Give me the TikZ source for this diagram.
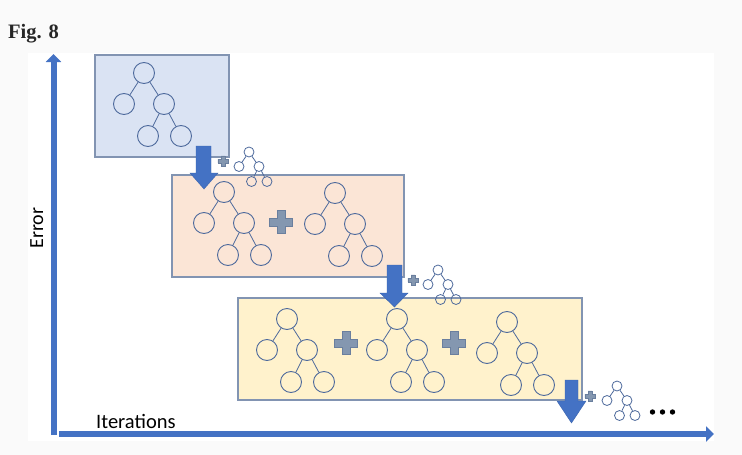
\documentclass[tikz,border=0pt]{standalone}
\usepackage{fontspec}
\newfontfamily\figfont{Liberation Serif}
\newfontfamily\calfont{Carlito}
\usetikzlibrary{arrows.meta}
\definecolor{axisblue}{HTML}{4472C4}
\definecolor{arrowedge}{HTML}{3A64AE}
\definecolor{treecol}{HTML}{4E6A9C}
\definecolor{boxedge}{HTML}{8294B2}
\definecolor{fillA}{HTML}{DAE3F3}
\definecolor{fillB}{HTML}{FBE5D6}
\definecolor{fillC}{HTML}{FFF2CC}
\definecolor{plusfill}{HTML}{8497B0}
\definecolor{plusedge}{HTML}{6A7F9E}
\definecolor{pagegray}{HTML}{FAFAFA}
\tikzset{
  tc/.style={circle,draw=treecol,inner sep=0pt,line width=0.9pt},
  tcs/.style={circle,draw=treecol,inner sep=0pt,line width=0.8pt,minimum size=10pt},
  tl/.style={draw=treecol,line width=0.8pt},
  panel/.style={draw=boxedge,line width=1.1pt},
  barrow/.style={fill=axisblue,draw=arrowedge,line width=0.4pt},
  axisline/.style={draw=axisblue,line width=6pt,-{Triangle[width=15pt,length=8pt]}},
  plusst/.style={fill=plusfill,draw=plusedge,line width=0.6pt},
  bigtree/.pic={
    \node[tc,minimum size=21pt] (-r) at (0,0) {};
    \node[tc,minimum size=21pt] (-l) at (-20,31) {};
    \node[tc,minimum size=21pt] (-m) at (20,31) {};
    \node[tc,minimum size=21pt] (-a) at (4,63) {};
    \node[tc,minimum size=21pt] (-b) at (37,63) {};
    \draw[tl] (-r) -- (-l);
    \draw[tl] (-r) -- (-m);
    \draw[tl] (-m) -- (-a);
    \draw[tl] (-m) -- (-b);
  },
  smalltree/.pic={
    \node[tcs] (-r) at (0,0) {};
    \node[tcs] (-l) at (-10,14.5) {};
    \node[tcs] (-m) at (10,14.5) {};
    \node[tcs] (-a) at (2.5,29.5) {};
    \node[tcs] (-b) at (18,29.5) {};
    \draw[tl] (-r) -- (-l);
    \draw[tl] (-r) -- (-m);
    \draw[tl] (-m) -- (-a);
    \draw[tl] (-m) -- (-b);
  },
  plus/.pic={
    \path[plusst] (-4,-11.5) -- (4,-11.5) -- (4,-4) -- (11.5,-4) -- (11.5,4) -- (4,4) -- (4,11.5)
      -- (-4,11.5) -- (-4,4) -- (-11.5,4) -- (-11.5,-4) -- (-4,-4) -- cycle;
  }
}
\begin{document}
\begin{tikzpicture}[x=1pt,y=-1pt]
\fill[pagegray] (0,0) rectangle (742,455);
\fill[white] (28,53) rectangle (714,441);
\useasboundingbox (0,0) rectangle (742,455);

\node[font=\figfont\bfseries\fontsize{20.5}{22}\selectfont,text=black!85,anchor=base west,inner sep=0pt] (fig) at (8,38) {Fig. 8};

% axes
\coordinate (orgV) at (53.5,435);
\coordinate (topV) at (53.5,54);
\coordinate (orgH) at (59,434);
\coordinate (endH) at (714,434);
\draw[axisline] (orgV) -- (topV);
\draw[axisline] (orgH) -- (endH);
\node[font=\calfont\fontsize{20}{22}\selectfont,rotate=90,anchor=base,inner sep=0pt] (err) at (43,228) {Error};
\node[font=\calfont\fontsize{20.5}{22}\selectfont,anchor=base west,inner sep=0pt] (iter) at (96,428) {Iterations};

% boxes
\draw[panel,fill=fillA] (95,55) rectangle (229,157);
\draw[panel,fill=fillB] (172,175) rectangle (404,277);
\draw[panel,fill=fillC] (238,298) rectangle (582,400);

% trees in boxes
\pic (t1) at (144,73) {bigtree};
\pic (t2a) at (224,192) {bigtree};
\pic (t2b) at (335,193) {bigtree};
\pic (t3a) at (287,319) {bigtree};
\pic (t3b) at (397,319) {bigtree};
\pic (t3c) at (507,322) {bigtree};

% big plus signs
\pic (p2) at (281,222) {plus};
\pic (p3a) at (346,343) {plus};
\pic (p3b) at (454,343) {plus};

% block arrows
\path[barrow] (196,146) -- (211,146) -- (211,173) -- (218,173) -- (204,189) -- (190,173) -- (196,173) -- cycle;
\path[barrow] (387,265) -- (402,265) -- (402,293) -- (408,293) -- (394.5,307) -- (380,293) -- (387,293) -- cycle;
\path[barrow] (565,380) -- (578,380) -- (578,401) -- (586,401) -- (571.5,423) -- (557,401) -- (565,401) -- cycle;

% small plus and small trees
\pic[scale=0.45] (sp1) at (223,161) {plus};
\pic (st1) at (249,152) {smalltree};
\pic[scale=0.45] (sp2) at (413,280) {plus};
\pic (st2) at (438,270) {smalltree};
\pic[scale=0.45] (sp3) at (590,396) {plus};
\pic (st3) at (617,386) {smalltree};

% dots
\fill[black] (652.5,412) circle (2.7) (662.5,412) circle (2.7) (672.5,412) circle (2.7);
\end{tikzpicture}
\end{document}
